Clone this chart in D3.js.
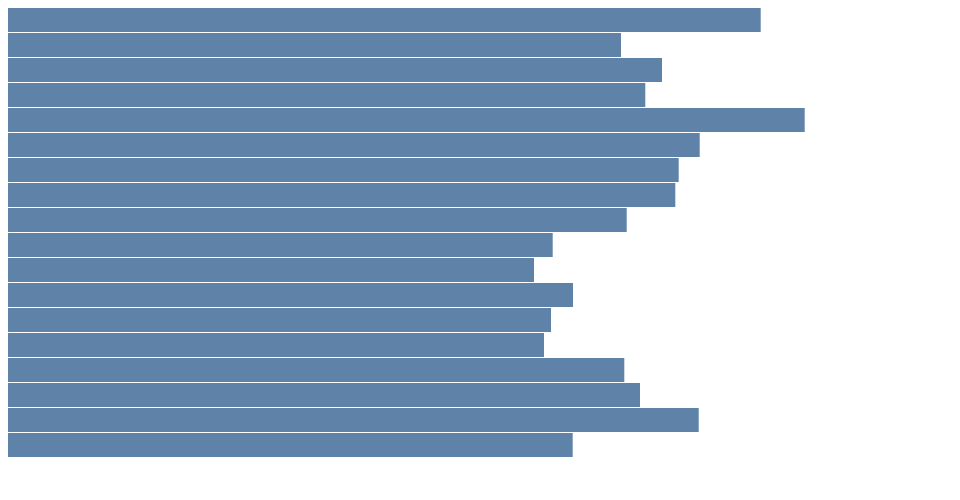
<!DOCTYPE html>
<html>
<head>
<meta charset="utf-8">
<script src="https://cdn.jsdelivr.net/npm/d3@7"></script>
<style>
  html, body { margin: 0; padding: 0; background: #fff; }
  svg { display: block; }
</style>
</head>
<body>
<script>
const categories = ["A","B","C","D","E","F","G","H","I","J","K","L","M","N","O","P","Q","R"];
const values = [752.7, 613, 654, 637.3, 796.7, 691.7, 670.7, 667.3, 618.7, 544.7, 526, 565, 543, 536, 616.3, 632, 690.7, 564.7];

const W = 960, H = 500;
const svg = d3.select("body").append("svg").attr("width", W).attr("height", H);

const x = d3.scaleLinear().domain([0, 944]).range([8, 952]);
const y = d3.scaleBand().domain(categories).range([8, 457]).paddingInner(0.04);

svg.selectAll("rect")
  .data(categories.map((c, i) => ({c, v: values[i]})))
  .join("rect")
  .attr("x", x(0))
  .attr("y", d => y(d.c))
  .attr("width", d => x(d.v) - x(0))
  .attr("height", y.bandwidth())
  .attr("fill", "#5e82a8");
</script>
</body>
</html>
